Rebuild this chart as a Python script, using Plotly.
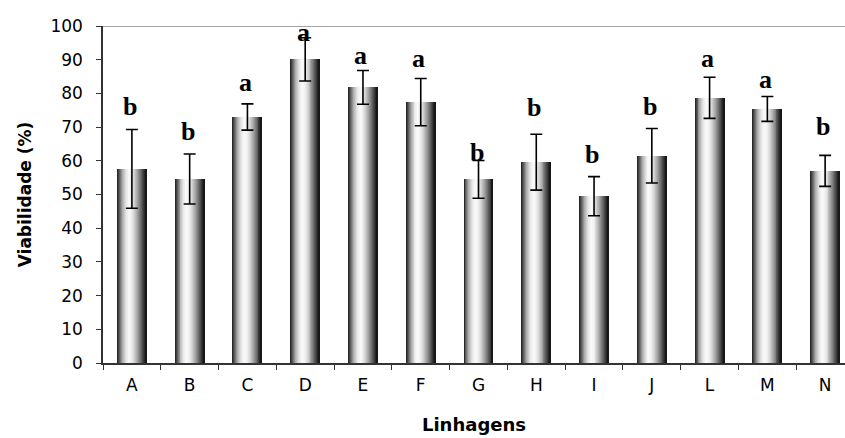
import plotly.graph_objects as go

# Lines (linhagens) and mean viability (%) with its error
linhagens = ["A", "B", "C", "D", "E", "F", "G", "H", "I", "J", "L", "M", "N"]
viabilidade = [57.6, 54.6, 73.0, 90.1, 81.8, 77.4, 54.5, 59.6, 49.5, 61.5, 78.7, 75.4, 57.0]
erro = [11.7, 7.4, 3.9, 6.4, 5.0, 7.0, 5.6, 8.3, 5.8, 8.1, 6.1, 3.7, 4.6]
# Significance groups and the height (%) at which each letter sits
grupos = ["b", "b", "a", "a", "a", "a", "b", "b", "b", "b", "a", "a", "b"]
altura_letra = [73.0, 65.6, 80.1, 95.0, 88.1, 87.2, 59.4, 72.7, 58.8, 73.0, 87.2, 81.0, 67.1]

W, H = 845, 438
ML, MT, MB = 103, 26, 75
PX_PER_CAT = 57.77
x_max = 12.5 - (ML + 13 * PX_PER_CAT - W) / PX_PER_CAT

SANS = "DejaVu Sans, Arial, sans-serif"

fig = go.Figure()

# Cylinder-like shading: each bar is built from thin vertical slices
BAR_W = 0.5
profile = [(0.0, 25), (0.08, 90), (0.18, 170), (0.3, 228), (0.4, 250),
           (0.5, 242), (0.6, 212), (0.72, 160), (0.84, 100), (0.94, 45), (1.0, 15)]


def shade(t):
    for (t0, v0), (t1, v1) in zip(profile[:-1], profile[1:]):
        if t0 <= t <= t1:
            v = v0 + (v1 - v0) * (t - t0) / (t1 - t0)
            g = int(round(v))
            return f"rgb({g},{g},{g})"
    return "rgb(0,0,0)"


N_SLICES = 30
sw = BAR_W / N_SLICES
for i in range(N_SLICES):
    t = (i + 0.5) / N_SLICES
    fig.add_trace(go.Bar(
        x=linhagens, y=viabilidade,
        width=sw * 1.15, offset=-BAR_W / 2 + i * sw,
        marker=dict(color=shade(t), line=dict(width=0)),
        hoverinfo="skip", showlegend=False,
    ))

# Error bars
fig.add_trace(go.Scatter(
    x=linhagens, y=viabilidade, mode="markers",
    marker=dict(size=1, color="rgba(0,0,0,0)"),
    error_y=dict(type="data", array=erro, visible=True,
                 color="black", thickness=1.6, width=6),
    showlegend=False, hoverinfo="skip",
))

# Significance letters
for cat, g, yv in zip(linhagens, grupos, altura_letra):
    fig.add_annotation(
        x=cat, y=yv, text=f"<b>{g}</b>", showarrow=False,
        yanchor="bottom", yshift=-6, xshift=-2,
        font=dict(family="Liberation Serif, Times New Roman, serif", size=26, color="black"),
    )

# Top border line of the plot area
fig.add_shape(type="line", xref="paper", yref="y", x0=0, x1=1, y0=100, y1=100,
              line=dict(color="#888888", width=1.5))

fig.update_layout(
    width=W, height=H,
    margin=dict(l=ML, r=0, t=MT, b=MB, pad=0),
    paper_bgcolor="white", plot_bgcolor="white",
    barmode="overlay", bargap=0,
    font=dict(family=SANS, color="black"),
    xaxis=dict(
        range=[-0.5, x_max], showgrid=False, showline=True, linecolor="#333333", linewidth=1.5,
        ticks="outside", tickson="boundaries", ticklen=5, tickcolor="#333333", tickwidth=1,
        tickfont=dict(size=17), ticklabelstandoff=6,
        title=dict(text="<b>Linhagens</b>", font=dict(size=18), standoff=24),
    ),
    yaxis=dict(
        range=[0, 100], dtick=10, showgrid=False, showline=True, linecolor="#333333", linewidth=1.5,
        ticks="outside", ticklen=5, tickcolor="#333333", tickwidth=1,
        tickfont=dict(size=17), ticklabelstandoff=10, zeroline=False,
        title=dict(text="<b>Viabilidade (%)</b>", font=dict(size=17), standoff=14),
    ),
)

fig.write_html("out.html")
